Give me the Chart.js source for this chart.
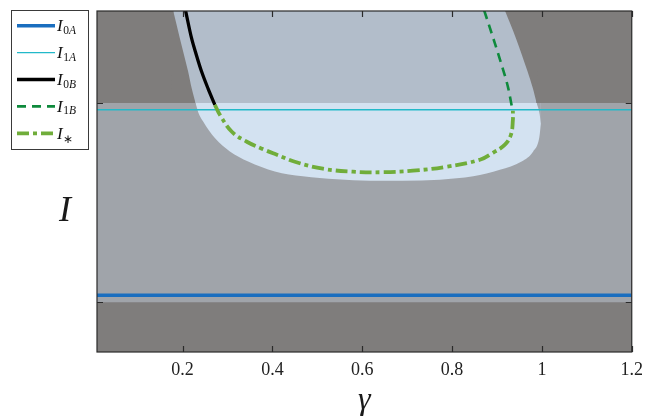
<!DOCTYPE html>
<html><head><meta charset="utf-8">
<script src="https://cdn.jsdelivr.net/npm/chart.js@4.4.1/dist/chart.umd.min.js"></script>
<style>html,body{margin:0;padding:0;background:#fff}#wrap{width:650px;height:420px}</style>
</head><body><div id="wrap"><canvas id="c" width="650" height="420"></canvas></div>
<script>
// ---- axes ----
const xTicks = [0.2, 0.4, 0.6, 0.8, 1.0, 1.2];
const yTicks = [1, 3];
const xRange = [0.0095, 1.2];
const yRange = [0.5, 3.925];

// ---- shaded regions ----
const band = [1, 3];                       // lighter horizontal band (I between these)
// left edge of the light region above the band (first point just above the frame)
const blobLeftX = [0.176, 0.179, 0.1939, 0.2124, 0.2206, 0.2289];
const blobLeftY = [3.985, 3.93, 3.652, 3.317, 3.143, 3.0];
// right edge of the light region above the band (last point just below the band top)
const blobRightX = [0.9176, 0.9421, 0.9681, 0.9795, 0.9882, 0.9912];
const blobRightY = [3.93, 3.652, 3.317, 3.153, 3.0, 2.946];
// right edge inside the band
const blobTipX = [0.9882, 0.9944, 0.9978];
const blobTipY = [3.0, 2.903, 2.792];
// lower edge inside the band
const blobBottomX = [0.2289, 0.2352, 0.2458, 0.2719, 0.3053, 0.3460, 0.4055, 0.4678, 0.5435, 0.6170, 0.6905, 0.7729, 0.8470, 0.9065, 0.9548, 0.9806, 0.9940, 0.9978];
const blobBottomY = [3.0, 2.903, 2.815, 2.649, 2.515, 2.414, 2.314, 2.266, 2.236, 2.221, 2.221, 2.231, 2.264, 2.331, 2.414, 2.515, 2.649, 2.792];

// ---- curves ----
const I0A_y = 1.07;
const I1A_y = 2.933;
const I0B_x = [0.2066, 0.2200, 0.2307, 0.2423, 0.2570, 0.2719];
const I0B_y = [3.93, 3.652, 3.484, 3.317, 3.143, 2.983];
const I1B_x = [0.8715, 0.8916, 0.9103, 0.9250, 0.9348];
const I1B_y = [3.93, 3.652, 3.384, 3.150, 2.923];
const Istar_x = [0.2719, 0.2830, 0.3097, 0.3431, 0.3765, 0.4099, 0.4500, 0.5124, 0.5792, 0.6459, 0.7128, 0.7885, 0.8620, 0.8909, 0.9176, 0.9310, 0.9354, 0.9354];
const Istar_y = [2.983, 2.883, 2.712, 2.612, 2.542, 2.481, 2.411, 2.341, 2.311, 2.306, 2.321, 2.361, 2.431, 2.501, 2.582, 2.682, 2.832, 2.923];

// ---- legend ----
const legendMain = ['I', 'I', 'I', 'I', 'I'];
const legendSub = ['0A', '1A', '0B', '1B', '∗'];

const COL = {dark: '#7f7d7c', band: '#a0a4aa', blobUp: '#b2bdca', blobIn: '#d3e2f1'};

const zip = (xs, ys) => xs.map((x, i) => ({x, y: ys[i]}));
const fillDs = (pts, fill, color, order) => ({
  data: pts, fill, backgroundColor: color, borderColor: 'transparent', borderWidth: 0,
  pointRadius: 0, cubicInterpolationMode: 'monotone', order
});

const lineDefs = [
  {label: 'I0A', data: [{x: xRange[0], y: I0A_y}, {x: xRange[1], y: I0A_y}], borderColor: '#1a6ebf', borderWidth: 3.5, borderDash: []},
  {label: 'I1A', data: [{x: xRange[0], y: I1A_y}, {x: xRange[1], y: I1A_y}], borderColor: '#22b9c9', borderWidth: 1.3, borderDash: []},
  {label: 'I0B', data: zip(I0B_x, I0B_y), borderColor: '#000000', borderWidth: 3.3, borderDash: [], cubicInterpolationMode: 'monotone'},
  {label: 'I1B', data: zip(I1B_x, I1B_y), borderColor: '#0e8a3c', borderWidth: 2.6, borderDash: [9, 6], cubicInterpolationMode: 'monotone'},
  {label: 'I*', data: zip(Istar_x, Istar_y), borderColor: '#70ad3a', borderWidth: 3.8, borderDash: [12, 4, 4, 4], tension: 0.4}
].map((d, i) => Object.assign({fill: false, pointRadius: 0, order: 5 - i, borderCapStyle: 'butt', tension: 0}, d));

const datasets = [
  ...lineDefs,
  fillDs(zip(blobTipX, blobTipY), {value: band[1]}, COL.band, 25),
  fillDs(zip(blobBottomX, blobBottomY), {value: band[1]}, COL.blobIn, 26),
  fillDs(zip(blobRightX, blobRightY), 'end', COL.dark, 27),
  fillDs(zip(blobLeftX, blobLeftY), {value: band[1]}, COL.dark, 28),
  fillDs([{x: blobLeftX[1], y: yRange[1]}, {x: blobRightX[4], y: yRange[1]}], {value: band[1]}, COL.blobUp, 29),
  fillDs([{x: xRange[0], y: band[1]}, {x: xRange[1], y: band[1]}], {value: band[0]}, COL.band, 30)
];

const bgPlugin = {
  id: 'bg',
  beforeDraw(chart) {
    const {ctx, chartArea: a} = chart;
    ctx.save(); ctx.fillStyle = COL.dark;
    ctx.fillRect(a.left, a.top, a.right - a.left, a.bottom - a.top);
    ctx.restore();
  }
};

const framePlugin = {
  id: 'frame',
  afterDraw(chart) {
    const {ctx, chartArea: a, scales} = chart;
    ctx.save();
    ctx.strokeStyle = '#2a2a2a'; ctx.lineWidth = 1.2;
    ctx.strokeRect(a.left, a.top, a.right - a.left, a.bottom - a.top);
    ctx.beginPath();
    xTicks.forEach(v => {
      const px = Math.round(scales.x.getPixelForValue(v)) + 0.5;
      ctx.moveTo(px, a.bottom); ctx.lineTo(px, a.bottom - 6);
      ctx.moveTo(px, a.top); ctx.lineTo(px, a.top + 6);
    });
    yTicks.forEach(v => {
      const py = Math.round(scales.y.getPixelForValue(v)) + 0.5;
      ctx.moveTo(a.left, py); ctx.lineTo(a.left + 6, py);
      ctx.moveTo(a.right, py); ctx.lineTo(a.right - 6, py);
    });
    ctx.stroke();

    // y axis label
    ctx.fillStyle = '#1a1a1a';
    ctx.font = 'italic 36px "Liberation Serif"';
    ctx.textAlign = 'center'; ctx.textBaseline = 'alphabetic';
    ctx.fillText('I', 65, 221);

    // legend
    const bx = 11, by = 10, bw = 77, bh = 139;
    ctx.fillStyle = '#ffffff'; ctx.fillRect(bx, by, bw, bh);
    ctx.strokeStyle = '#3a3a3a'; ctx.lineWidth = 1;
    ctx.strokeRect(bx + 0.5, by + 0.5, bw, bh);
    lineDefs.forEach((d, i) => {
      const ly = 25.7 + i * 26.9;
      ctx.save();
      ctx.strokeStyle = d.borderColor; ctx.lineWidth = d.borderWidth;
      ctx.setLineDash(d.borderDash); ctx.lineCap = 'butt';
      ctx.beginPath(); ctx.moveTo(17, ly); ctx.lineTo(55, ly); ctx.stroke();
      ctx.restore();
      ctx.fillStyle = '#111'; ctx.textAlign = 'left';
      ctx.font = 'italic 17px "Liberation Serif"';
      ctx.fillText(legendMain[i], 57, ly + 5.5);
      let x = 57 + ctx.measureText(legendMain[i]).width + 0.5;
      for (const ch of legendSub[i]) {
        const it = /[A-Za-z]/.test(ch);
        ctx.font = (it ? 'italic ' : '') + (ch === '∗' ? '12px' : '11.5px') + ' "Liberation Serif"';
        ctx.fillText(ch, x, ly + (ch === '∗' ? 10 : 8));
        x += ctx.measureText(ch).width;
      }
    });
    ctx.restore();
  }
};

new Chart(document.getElementById('c'), {
  type: 'line',
  data: {datasets},
  options: {
    responsive: false, animation: false, devicePixelRatio: 1,
    layout: {padding: {left: 0, right: 18, top: 11, bottom: 0}},
    plugins: {legend: {display: false}, tooltip: {enabled: false}},
    elements: {point: {radius: 0}},
    scales: {
      x: {
        type: 'linear', min: xRange[0], max: xRange[1],
        afterBuildTicks: s => { s.ticks = xTicks.map(v => ({value: v})); },
        afterFit: s => { s.height = 68; },
        grid: {display: false, drawTicks: false}, border: {display: false},
        ticks: {padding: 7, color: '#222', font: {family: 'Liberation Serif', size: 18},
                callback: v => Number.isInteger(v) ? String(v) : v.toFixed(1)},
        title: {display: true, text: 'γ', color: '#1a1a1a', padding: {top: 6, bottom: 0},
                font: {family: 'Liberation Serif', size: 32, style: 'italic'}}
      },
      y: {
        type: 'linear', min: yRange[0], max: yRange[1],
        afterBuildTicks: s => { s.ticks = yTicks.map(v => ({value: v})); },
        afterFit: s => { s.width = 97; },
        grid: {display: false, drawTicks: false}, border: {display: false},
        ticks: {display: false}
      }
    }
  },
  plugins: [bgPlugin, framePlugin]
});
</script>
</body></html>
